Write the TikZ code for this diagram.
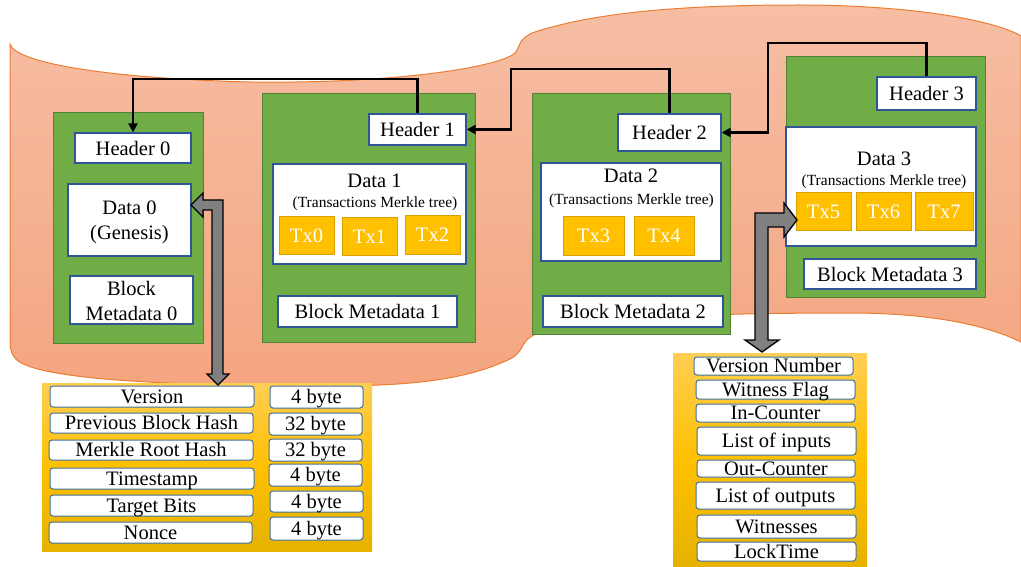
\documentclass[tikz,border=0pt]{standalone}
\usepackage{fontspec}
\setmainfont{Liberation Serif}
\usetikzlibrary{arrows.meta}
\definecolor{bgTop}{RGB}{246,190,164}
\definecolor{bgBot}{RGB}{245,165,128}
\definecolor{bgLine}{RGB}{237,125,49}
\definecolor{grn}{RGB}{112,173,71}
\definecolor{grnLine}{RGB}{84,130,53}
\definecolor{boxLine}{RGB}{47,85,151}
\definecolor{txFill}{RGB}{255,192,0}
\definecolor{txLine}{RGB}{214,160,0}
\definecolor{ylTop}{RGB}{255,206,84}
\definecolor{ylMid}{RGB}{255,192,0}
\definecolor{ylBot}{RGB}{230,178,0}
\definecolor{rowLine}{RGB}{65,113,156}
\definecolor{arrGray}{RGB}{128,128,128}
\begin{document}
\begin{tikzpicture}[x=1pt,y=-1pt,
  font=\fontsize{20.5}{25}\selectfont,
  blk/.style={draw=grnLine, fill=grn, line width=1pt, inner sep=0pt},
  wbox/.style={draw=boxLine, fill=white, line width=1.3pt, inner sep=0pt, align=center},
  tx/.style={draw=txLine, fill=txFill, line width=1pt, inner sep=0pt, text=white},
  row/.style={draw=rowLine, fill=white, line width=1pt, rounded corners=3pt, inner sep=0pt, text height=13.5pt, text depth=0pt},
  sub/.style={font=\fontsize{15.5}{18}\selectfont, inner sep=0pt},
  ttl/.style={inner sep=0pt, align=center},
  panel/.style={draw=none, top color=ylTop, bottom color=ylBot, middle color=ylMid, inner sep=0pt},
  link/.style={line width=2.8pt, -{Triangle[length=9pt,width=9pt]}},
  blockarrow/.style={draw=black, fill=arrGray, line width=1.3pt, line join=miter},
]
\useasboundingbox (0,0) rectangle (1021,567);

% background wave
\path[draw=bgLine, line width=1pt, top color=bgTop, bottom color=bgBot]
  (10,44) .. controls (15,62) and (100,78) .. (250,82)
  .. controls (400,84) and (505,66) .. (516,52)
  .. controls (520,46) and (518,40) .. (532,33)
  .. controls (600,10) and (700,5) .. (800,5)
  .. controls (900,5) and (990,18) .. (1021,36)
  -- (1021,342)
  .. controls (980,322) and (920,313) .. (850,313)
  .. controls (700,313) and (565,318) .. (532,336)
  .. controls (520,343) and (524,352) .. (510,359)
  .. controls (470,378) and (420,386) .. (330,386)
  .. controls (150,386) and (30,378) .. (15,358)
  .. controls (10,352) and (10,346) .. (10,338) -- cycle;

% block 0
\node[blk, minimum width=150pt, minimum height=230pt] (b0) at (128,228) {};
\node[wbox, minimum width=116pt, minimum height=30pt] (h0) at (133,148) {Header 0};
\node[wbox, minimum width=123pt, minimum height=72pt] (d0) at (129.5,220) {};
\node[ttl] (d0t) at (129.5,222.5) {Data 0\\(Genesis)};
\node[wbox, minimum width=123pt, minimum height=48pt] (m0) at (131.5,300) {};
\node[ttl] (m0t) at (131.5,300.5) {Block\\Metadata 0};

% block 1
\node[blk, minimum width=213pt, minimum height=248pt] (b1) at (368.5,218) {};
\node[wbox, minimum width=97pt, minimum height=31pt] (h1) at (417.5,129.5) {Header 1};
\node[wbox, minimum width=193pt, minimum height=100pt] (d1) at (369.5,214) {};
\node[ttl] (d1t) at (374.5,181) {Data 1};
\node[sub] (d1s) at (375,204) {(Transactions Merkle tree)};
\node[tx, minimum width=55pt, minimum height=37pt] (t0) at (306.5,235.5) {Tx0};
\node[tx, minimum width=55pt, minimum height=37pt] (t1) at (369.5,236.5) {Tx1};
\node[tx, minimum width=55pt, minimum height=38pt] (t2) at (432.5,235) {Tx2};
\node[wbox, minimum width=179pt, minimum height=31pt] (m1) at (367.5,311.5) {Block Metadata 1};

% block 2
\node[blk, minimum width=198pt, minimum height=240pt] (b2) at (631,214) {};
\node[wbox, minimum width=103pt, minimum height=37pt] (h2) at (669.5,132.5) {Header 2};
\node[wbox, minimum width=180pt, minimum height=98pt] (d2) at (631,212) {};
\node[ttl] (d2t) at (631,176) {Data 2};
\node[sub] (d2s) at (631.5,200.5) {(Transactions Merkle tree)};
\node[tx, minimum width=61pt, minimum height=38pt] (t3) at (593.5,236) {Tx3};
\node[tx, minimum width=60pt, minimum height=38pt] (t4) at (664,236) {Tx4};
\node[wbox, minimum width=180pt, minimum height=31pt] (m2) at (633,311.5) {Block Metadata 2};

% block 3
\node[blk, minimum width=199pt, minimum height=240pt] (b3) at (885.5,177) {};
\node[wbox, minimum width=99pt, minimum height=33pt] (h3) at (926.5,93.5) {Header 3};
\node[wbox, minimum width=190pt, minimum height=119pt] (d3) at (881,186.5) {};
\node[ttl] (d3t) at (884,158.5) {Data 3};
\node[sub] (d3s) at (884,181.5) {(Transactions Merkle tree)};
\node[tx, minimum width=55pt, minimum height=38pt] (t5) at (823.5,212) {Tx5};
\node[tx, minimum width=55pt, minimum height=38pt] (t6) at (883.5,212) {Tx6};
\node[tx, minimum width=58pt, minimum height=38pt] (t7) at (944,212) {Tx7};
\node[wbox, minimum width=172pt, minimum height=30pt] (m3) at (890,274) {Block Metadata 3};

% header links
\coordinate (k1) at (133,79);
\coordinate (k2) at (511,69);
\coordinate (k3) at (768,43);
\draw[link] (h1.north) |- (k1) -- (h0.north);
\draw[link] (h2.north) |- (k2) |- (h1.east);
\draw[link] (h3.north) |- (k3) |- (h2.east);

% block header table
\node[panel, minimum width=330pt, minimum height=168pt] (lp) at (207,467) {};
\node[row, minimum width=204pt, minimum height=21pt] (r1) at (152,396.5) {Version};
\node[row, minimum width=203pt, minimum height=20pt] (r2) at (151.5,423) {Previous Block Hash};
\node[row, minimum width=204pt, minimum height=20pt] (r3) at (151,450) {Merkle Root Hash};
\node[row, minimum width=204pt, minimum height=21pt] (r4) at (152,478.5) {Timestamp};
\node[row, minimum width=203pt, minimum height=21pt] (r5) at (151.5,505.5) {Target Bits};
\node[row, minimum width=203pt, minimum height=21pt] (r6) at (150.5,532.5) {Nonce};
\node[row, minimum width=93pt, minimum height=22pt] (s1) at (316.5,397) {4 byte};
\node[row, minimum width=93pt, minimum height=22pt] (s2) at (315.5,424) {32 byte};
\node[row, minimum width=93pt, minimum height=22pt] (s3) at (315.5,450) {32 byte};
\node[row, minimum width=93pt, minimum height=22pt] (s4) at (315.5,475) {4 byte};
\node[row, minimum width=93pt, minimum height=21pt] (s5) at (316.5,501.5) {4 byte};
\node[row, minimum width=93pt, minimum height=23pt] (s6) at (316.5,528.5) {4 byte};

% transaction table
\node[panel, minimum width=194pt, minimum height=214pt] (rp) at (770,460) {};
\node[row, minimum width=159pt, minimum height=18pt] (q1) at (773.5,366) {Version Number};
\node[row, minimum width=159pt, minimum height=19pt] (q2) at (775.5,389.5) {Witness Flag};
\node[row, minimum width=159pt, minimum height=18pt] (q3) at (775.5,413) {In-Counter};
\node[row, minimum width=159pt, minimum height=28pt] (q4) at (776.5,441) {List of inputs};
\node[row, minimum width=158pt, minimum height=17pt] (q5) at (776,468.5) {Out-Counter};
\node[row, minimum width=159pt, minimum height=27pt] (q6) at (775.5,495.5) {List of outputs};
\node[row, minimum width=159pt, minimum height=23pt] (q7) at (776.5,526.5) {Witnesses};
\node[row, minimum width=159pt, minimum height=19pt] (q8) at (776.5,551.5) {LockTime};

% gray block arrows
\draw[blockarrow] (191,205) -- (203,193) -- (203,200) -- (223,200) -- (223,374)
  -- (229,374) -- (218,385) -- (207,374) -- (212,374) -- (212,210) -- (203,210)
  -- (203,217) -- cycle;
\draw[blockarrow] (797,220) -- (784,203) -- (784,213) -- (755,213) -- (755,340)
  -- (745,340) -- (762,352) -- (779,340) -- (768,340) -- (768,227) -- (784,227)
  -- (784,237) -- cycle;
\end{tikzpicture}
\end{document}
